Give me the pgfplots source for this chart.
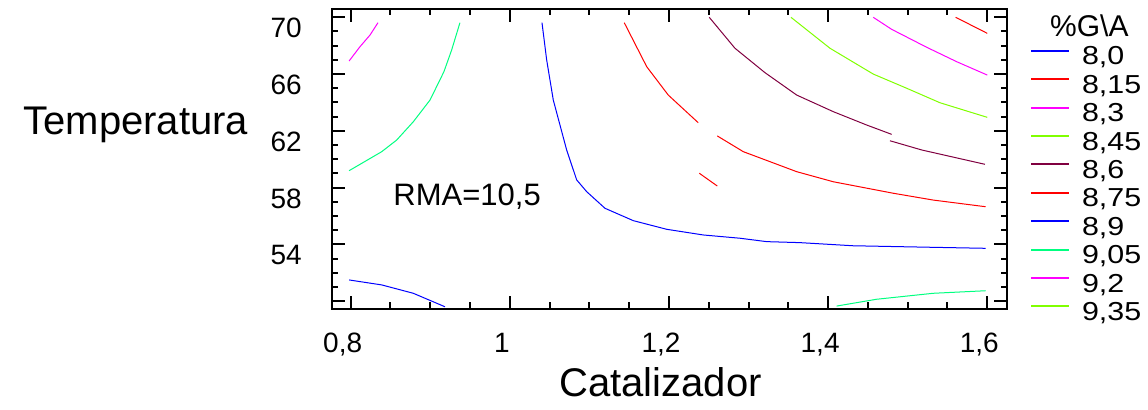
\documentclass[border=0pt]{standalone}
\usepackage{fontspec}
\setmainfont{Liberation Sans}
\newfontfamily\legfont{Liberation Sans}[FakeStretch=1.17]
\usepackage{pgfplots}
\pgfplotsset{compat=1.18}

\definecolor{cblue}{RGB}{0,0,255}
\definecolor{cred}{RGB}{255,0,0}
\definecolor{cmag}{RGB}{255,0,255}
\definecolor{clime}{RGB}{128,255,0}
\definecolor{cmaroon}{RGB}{128,0,64}
\definecolor{cspring}{RGB}{0,255,128}

\begin{document}
\begin{tikzpicture}
\begin{axis}[
  scale only axis, width=675pt, height=300pt,
  xmin=0.7765, xmax=1.6248, ymin=49.443, ymax=70.585,
  axis line style={line width=2pt},
  tick align=inside, tick pos=both,
  major tick length=13pt, minor tick length=6.5pt,
  every tick/.style={black, line width=2pt},
  xtick={0.8,1,1.2,1.4,1.6}, xticklabels={{0,8},{1},{1,2},{1,4},{1,6}},
  minor x tick num=3,
  ytick={50,54,58,62,66,70}, yticklabels={{},{54},{58},{62},{66},{70}},
  minor y tick num=3,
  ticklabel style={font=\fontsize{28}{32}\selectfont, inner sep=0pt},
  xticklabel style={anchor=north, yshift=-24pt, xshift=-8pt},
  yticklabel style={anchor=east, xshift=-30pt, yshift=-11pt},
  clip=false,
  legend style={draw=none, fill=none, inner sep=0pt, outer sep=0pt,
    at={(1.0341,0.908)}, anchor=north west, row sep=0pt,
    /tikz/every odd column/.style={column sep=12pt},
    nodes={inner sep=0pt, text height=28.4pt, text depth=0pt,
      font=\legfont\fontsize{26}{28}\selectfont}},
  legend cell align=left,
  legend image code/.code={\draw[#1, line width=2pt] (0pt,0pt) -- (38pt,0pt);},
]
% 9,2 (left)
\addplot[cmag, line width=1pt, forget plot] coordinates {(0.798,66.92) (0.8117,67.93) (0.8243,68.75) (0.8343,69.62)};
% 9,05 (left)
\addplot[cspring, line width=1pt, forget plot] coordinates {(0.798,59.19) (0.839,60.53) (0.8578,61.35) (0.8787,62.64) (0.8997,64.17) (0.9172,66.17) (0.9269,67.70) (0.9373,69.62)};
% 8,9
\addplot[cblue, line width=1pt, forget plot] coordinates {(1.0404,69.62) (1.0463,66.99) (1.0546,64.17) (1.0714,60.65) (1.084,58.54) (1.0966,57.71) (1.1196,56.54) (1.1551,55.67) (1.1971,55.06) (1.2431,54.66) (1.2892,54.43) (1.3228,54.19) (1.3646,54.12) (1.4312,53.90) (1.5318,53.79) (1.598,53.72)};
\addplot[cblue, line width=1pt, forget plot] coordinates {(0.798,51.49) (0.839,51.14) (0.8787,50.55) (0.9185,49.60)};
% 9,05 (bottom right)
\addplot[cspring, line width=1pt, forget plot] coordinates {(1.4107,49.65) (1.461,50.13) (1.5321,50.55) (1.598,50.73)};
% 8,75
\addplot[cred, line width=1pt, forget plot] coordinates {(1.1438,69.62) (1.172,66.52) (1.1991,64.52) (1.2368,62.57)};
\addplot[cred, line width=1pt, forget plot] coordinates {(1.2607,61.64) (1.2934,60.53) (1.3605,59.12) (1.4065,58.41) (1.4819,57.60) (1.5321,57.12) (1.598,56.65)};
\addplot[cred, line width=1pt, forget plot] coordinates {(1.2381,59.01) (1.2607,58.11)};
% 8,6
\addplot[cmaroon, line width=1pt, forget plot] coordinates {(1.2506,70.0) (1.2829,67.82) (1.3206,66.10) (1.3605,64.52) (1.4065,63.35) (1.4484,62.41) (1.4799,61.75)};
\addplot[cmaroon, line width=1pt, forget plot] coordinates {(1.4777,61.30) (1.5176,60.65) (1.5971,59.64)};
% 8,45
\addplot[clime, line width=1pt, forget plot] coordinates {(1.3533,70.0) (1.4023,67.82) (1.4567,66.0) (1.4987,65.0) (1.5405,63.98) (1.6,62.95)};
% 8,3
\addplot[cmag, line width=1pt, forget plot] coordinates {(1.4567,70.0) (1.4799,69.15) (1.5238,67.89) (1.5616,66.87) (1.6,65.93)};
% 8,15
\addplot[cred, line width=1pt, forget plot] coordinates {(1.5603,70.0) (1.6,68.87)};

\addlegendimage{cblue}\addlegendentry{8,0}
\addlegendimage{cred}\addlegendentry{8,15}
\addlegendimage{cmag}\addlegendentry{8,3}
\addlegendimage{clime}\addlegendentry{8,45}
\addlegendimage{cmaroon}\addlegendentry{8,6}
\addlegendimage{cred}\addlegendentry{8,75}
\addlegendimage{cblue}\addlegendentry{8,9}
\addlegendimage{cspring}\addlegendentry{9,05}
\addlegendimage{cmag}\addlegendentry{9,2}
\addlegendimage{clime}\addlegendentry{9,35}

\node[anchor=base west, font=\fontsize{31}{36}\selectfont, inner sep=0pt] at (axis cs:0.8535,56.77) {RMA=10,5};
\node[anchor=base east, font=\fontsize{40}{48}\selectfont, inner sep=0pt] at (rel axis cs:-0.124,0.58) {Temperatura};
\node[anchor=base west, font=\fontsize{40}{48}\selectfont, inner sep=0pt] at (rel axis cs:0.3367,-0.2923) {Catalizador};
\node[anchor=base west, font=\fontsize{30}{36}\selectfont, inner sep=0pt] at (rel axis cs:1.0637,0.9077) {\%G\textbackslash A};
\coordinate (bbl) at (rel axis cs:-0.49185,-0.33667);
\coordinate (btr) at (rel axis cs:1.20889,1.03);
\end{axis}
\pgfresetboundingbox
\path[use as bounding box] (bbl) rectangle (btr);
\end{tikzpicture}
\end{document}
